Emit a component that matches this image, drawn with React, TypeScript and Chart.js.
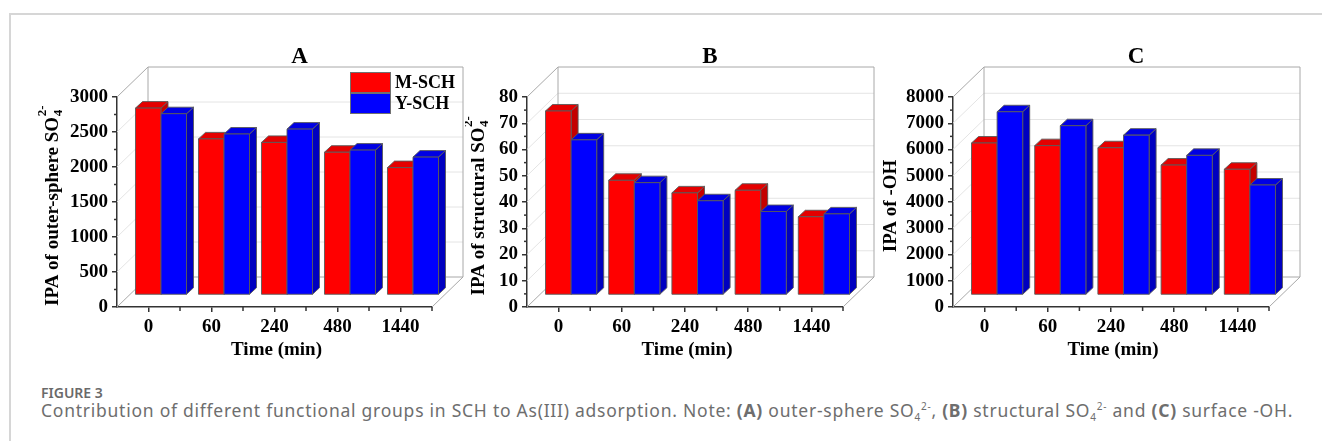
import { useEffect, useRef } from 'react';
import { Chart, registerables } from 'chart.js';

Chart.register(...registerables);

// Sampling times (min)
const TIME_LABELS = ['0', '60', '240', '480', '1440'];
const SERIES_NAMES = ['M-SCH', 'Y-SCH'];

// Integrated peak areas, outer-sphere SO4(2-)
const OUTER_M = [2670, 2230, 2180, 2040, 1820];
const OUTER_Y = [2590, 2300, 2370, 2070, 1970];
// Integrated peak areas, structural SO4(2-)
const STRUCT_M = [70.1, 43.7, 38.9, 39.9, 29.8];
const STRUCT_Y = [59.1, 42.8, 35.9, 31.8, 30.9];
// Integrated peak areas, surface -OH
const OH_M = [5790, 5690, 5610, 4950, 4790];
const OH_Y = [6980, 6450, 6090, 5320, 4190];

const RED = { front: '#ff0000', top: '#e40000', side: '#c40000' };
const BLUE = { front: '#0000ff', top: '#0000e4', side: '#0000c0' };
const SERIES_COLORS = [RED, BLUE];

const SERIF = 'Liberation Serif';
const TICK_FONT = { family: SERIF, size: 19, weight: 'bold' as const };

// oblique projection offsets
const WALL = { dx: 31, dy: -30 };
const BAR_SHIFT = { dx: 12.5, dy: -12 };
const BAR_DEPTH = { dx: 7, dy: -6.5 };

type YTitle = { main: string; sub: string; sup: string };

type PanelSpec = {
  letter: string;
  title: YTitle;
  m: number[];
  y: number[];
  max: number;
  step: number;
  canvasLeft: number;
  canvasWidth: number;
  plotLeft: number;
  plotRight: number;
  yTitleOffset: number;
  legend: boolean;
};

const CANVAS_H = 370;
const PLOT_TOP = 97;
const PLOT_BOTTOM = 307;
const Y_AXIS_W = 50;
const X_AXIS_H = 60;

const PANELS: PanelSpec[] = [
  {
    letter: 'A',
    title: { main: 'IPA of outer-sphere SO', sub: '4', sup: '2-' },
    m: OUTER_M,
    y: OUTER_Y,
    max: 3000,
    step: 500,
    canvasLeft: 0,
    canvasWidth: 470,
    plotLeft: 117,
    plotRight: 432,
    yTitleOffset: 65,
    legend: true,
  },
  {
    letter: 'B',
    title: { main: 'IPA of structural SO', sub: '4', sup: '2-' },
    m: STRUCT_M,
    y: STRUCT_Y,
    max: 80,
    step: 10,
    canvasLeft: 465,
    canvasWidth: 425,
    plotLeft: 527,
    plotRight: 843,
    yTitleOffset: 49,
    legend: false,
  },
  {
    letter: 'C',
    title: { main: 'IPA of -OH', sub: '', sup: '' },
    m: OH_M,
    y: OH_Y,
    max: 8000,
    step: 1000,
    canvasLeft: 880,
    canvasWidth: 442,
    plotLeft: 953,
    plotRight: 1269,
    yTitleOffset: 63,
    legend: false,
  },
];

function seg(ctx: CanvasRenderingContext2D, x1: number, y1: number, x2: number, y2: number) {
  ctx.beginPath();
  ctx.moveTo(x1, y1);
  ctx.lineTo(x2, y2);
  ctx.stroke();
}

function poly(ctx: CanvasRenderingContext2D, pts: number[][], fill: string) {
  ctx.beginPath();
  ctx.moveTo(pts[0][0], pts[0][1]);
  for (let i = 1; i < pts.length; i++) ctx.lineTo(pts[i][0], pts[i][1]);
  ctx.closePath();
  ctx.fillStyle = fill;
  ctx.fill();
  ctx.stroke();
}

function makeBoxPlugin(spec: PanelSpec) {
  return {
    id: 'box3d',
    beforeDatasetsDraw(chart: any) {
      const ctx: CanvasRenderingContext2D = chart.ctx;
      const { left, right, top, bottom } = chart.chartArea;
      const ys = chart.scales.y;
      ctx.save();

      // back wall grid and side-wall diagonals
      ctx.lineWidth = 1;
      ctx.strokeStyle = '#e4e4e4';
      ys.ticks.forEach((t: any) => {
        const py = ys.getPixelForValue(t.value);
        if (t.value === 0 || t.value === spec.max) return;
        seg(ctx, left, py, left + WALL.dx, py + WALL.dy);
        seg(ctx, left + WALL.dx, py + WALL.dy, right + WALL.dx, py + WALL.dy);
      });

      // box frame
      ctx.strokeStyle = '#a8a8a8';
      seg(ctx, left, top, left + WALL.dx, top + WALL.dy);
      seg(ctx, left + WALL.dx, top + WALL.dy, right + WALL.dx, top + WALL.dy);
      seg(ctx, left + WALL.dx, top + WALL.dy, left + WALL.dx, bottom + WALL.dy);
      seg(ctx, right + WALL.dx, top + WALL.dy, right + WALL.dx, bottom + WALL.dy);
      seg(ctx, left, bottom, left + WALL.dx, bottom + WALL.dy);
      seg(ctx, right, bottom, right + WALL.dx, bottom + WALL.dy);
      seg(ctx, left + WALL.dx, bottom + WALL.dy, right + WALL.dx, bottom + WALL.dy);

      // minor ticks
      ctx.strokeStyle = '#333';
      ctx.lineWidth = 1.5;
      for (let v = spec.step / 2; v < spec.max; v += spec.step) {
        const py = ys.getPixelForValue(v);
        seg(ctx, left, py, left - 3, py);
      }
      const cw = (right - left) / TIME_LABELS.length;
      for (let k = 1; k <= TIME_LABELS.length; k++) {
        const px = left + k * cw;
        seg(ctx, px, bottom, px, bottom + 4);
      }

      // 3D bars, left to right so that nearer faces cover the sides
      ctx.lineWidth = 0.9;
      ctx.strokeStyle = '#5a5a5a';
      ctx.lineJoin = 'round';
      const metas = [chart.getDatasetMeta(0), chart.getDatasetMeta(1)];
      for (let j = 0; j < TIME_LABELS.length; j++) {
        metas.forEach((meta: any, i: number) => {
          const el = meta.data[j];
          const p = el.getProps(['x', 'y', 'base', 'width'], true);
          const c = SERIES_COLORS[i];
          const l = p.x - p.width / 2 + BAR_SHIFT.dx;
          const r = p.x + p.width / 2 + BAR_SHIFT.dx;
          const t = p.y + BAR_SHIFT.dy;
          const b = p.base + BAR_SHIFT.dy;
          const { dx, dy } = BAR_DEPTH;
          poly(ctx, [[r, t], [r + dx, t + dy], [r + dx, b + dy], [r, b]], c.side);
          poly(ctx, [[l, t], [r, t], [r + dx, t + dy], [l + dx, t + dy]], c.top);
          poly(ctx, [[l, t], [r, t], [r, b], [l, b]], c.front);
        });
      }
      ctx.restore();
      return false;
    },
    afterDraw(chart: any) {
      const ctx: CanvasRenderingContext2D = chart.ctx;
      const { left, right, top, bottom } = chart.chartArea;
      ctx.save();
      ctx.fillStyle = '#000';

      // panel letter
      ctx.font = `bold 23px "${SERIF}"`;
      ctx.textAlign = 'center';
      ctx.textBaseline = 'middle';
      ctx.fillText(spec.letter, (left + right) / 2 + 25, top - 40);

      // x-axis title
      ctx.font = `bold 19px "${SERIF}"`;
      ctx.fillText('Time (min)', (left + right) / 2 + 2, bottom + 43);

      // y-axis title with sub/superscript
      const tt = spec.title;
      ctx.font = `bold 19px "${SERIF}"`;
      const wMain = ctx.measureText(tt.main).width;
      ctx.font = `bold 13px "${SERIF}"`;
      const wSub = tt.sub ? Math.max(ctx.measureText(tt.sub).width, ctx.measureText(tt.sup).width) : 0;
      const total = wMain + wSub;
      ctx.translate(left - spec.yTitleOffset, (top + bottom) / 2 + 4);
      ctx.rotate(-Math.PI / 2);
      ctx.textAlign = 'left';
      ctx.textBaseline = 'alphabetic';
      ctx.font = `bold 19px "${SERIF}"`;
      ctx.fillText(tt.main, -total / 2, 6);
      if (tt.sub) {
        ctx.font = `bold 13px "${SERIF}"`;
        ctx.fillText(tt.sub, -total / 2 + wMain + 0.5, 10);
        ctx.fillText(tt.sup, -total / 2 + wMain + 0.5, -6);
      }
      ctx.setTransform(1, 0, 0, 1, 0, 0);

      // legend
      if (spec.legend) {
        const lx = left + 233;
        const ly = top - 25;
        ctx.lineWidth = 1;
        ctx.strokeStyle = '#707070';
        ctx.font = `bold 18px "${SERIF}"`;
        ctx.textAlign = 'left';
        ctx.textBaseline = 'middle';
        SERIES_NAMES.forEach((name, i) => {
          const by = ly + i * 21;
          ctx.fillStyle = SERIES_COLORS[i].front;
          ctx.fillRect(lx, by, 40, 20);
          ctx.strokeRect(lx + 0.5, by + 0.5, 40, 20);
          ctx.fillStyle = '#000';
          ctx.fillText(name, lx + 45, by + 11);
        });
      }
      ctx.restore();
    },
  };
}

function Panel({ spec }: { spec: PanelSpec }) {
  const ref = useRef<HTMLCanvasElement | null>(null);

  useEffect(() => {
    const canvas = ref.current;
    if (!canvas) return;
    const localLeft = spec.plotLeft - spec.canvasLeft;
    const localRight = spec.plotRight - spec.canvasLeft;
    const chart = new Chart(canvas, {
      type: 'bar',
      data: {
        labels: TIME_LABELS,
        datasets: [
          { label: SERIES_NAMES[0], data: spec.m, backgroundColor: RED.front },
          { label: SERIES_NAMES[1], data: spec.y, backgroundColor: BLUE.front },
        ],
      },
      options: {
        animation: false,
        responsive: false,
        maintainAspectRatio: false,
        events: [],
        layout: {
          padding: {
            left: localLeft - Y_AXIS_W,
            right: spec.canvasWidth - localRight,
            top: PLOT_TOP,
            bottom: CANVAS_H - PLOT_BOTTOM - X_AXIS_H,
          },
        },
        datasets: { bar: { categoryPercentage: 0.81, barPercentage: 1 } },
        plugins: {
          legend: { display: false },
          tooltip: { enabled: false },
          title: { display: false },
        },
        scales: {
          x: {
            type: 'category',
            offset: true,
            grid: {
              offset: false,
              drawOnChartArea: false,
              drawTicks: true,
              tickLength: 5,
              color: '#333',
              lineWidth: 1.5,
            },
            border: { color: '#333', width: 1.5 },
            ticks: { font: TICK_FONT, color: '#000', padding: 4, maxRotation: 0, autoSkip: false },
            afterFit: (s: any) => {
              s.height = X_AXIS_H;
            },
          },
          y: {
            type: 'linear',
            min: 0,
            max: spec.max,
            ticks: {
              stepSize: spec.step,
              font: TICK_FONT,
              color: '#000',
              padding: 4,
              callback: (v: any) => String(v),
            },
            grid: {
              drawOnChartArea: false,
              drawTicks: true,
              tickLength: 5,
              color: '#333',
              lineWidth: 1.5,
            },
            border: { color: '#333', width: 1.5 },
            afterFit: (s: any) => {
              s.width = Y_AXIS_W;
            },
          },
        },
      } as any,
      plugins: [makeBoxPlugin(spec) as any],
    });
    return () => chart.destroy();
  }, [spec]);

  return (
    <canvas
      ref={ref}
      width={spec.canvasWidth}
      height={CANVAS_H}
      style={{
        position: 'absolute',
        left: spec.canvasLeft,
        top: 0,
        width: spec.canvasWidth,
        height: CANVAS_H,
      }}
    />
  );
}

const supStyle = { fontSize: 10 };

export default function App() {
  return (
    <div
      style={{
        position: 'fixed',
        left: 0,
        top: 0,
        width: 1322,
        height: 441,
        background: '#fff',
        overflow: 'hidden',
      }}
    >
      <div
        style={{
          position: 'absolute',
          left: 9,
          top: 13,
          width: 1330,
          height: 440,
          borderTop: '2px solid #d6d6d6',
          borderLeft: '2px solid #d6d6d6',
        }}
      />
      {PANELS.map((p) => (
        <Panel key={p.letter} spec={p} />
      ))}
      <div
        style={{
          position: 'absolute',
          left: 41,
          top: 383,
          font: '600 14px "Noto Sans"',
          lineHeight: '19px',
          color: '#6a6a6a',
          whiteSpace: 'nowrap',
        }}
      >
        FIGURE 3
      </div>
      <div
        style={{
          position: 'absolute',
          left: 41,
          top: 396,
          font: '17.5px "Noto Sans"',
          lineHeight: '20px',
          letterSpacing: '0.75px',
          color: '#6e6e6e',
          whiteSpace: 'nowrap',
        }}
      >
        Contribution of different functional groups in SCH to As(III) adsorption. Note: <b>(A)</b> outer-sphere SO
        <sub style={supStyle}>4</sub>
        <sup style={supStyle}>2-</sup>, <b>(B)</b> structural SO
        <sub style={supStyle}>4</sub>
        <sup style={supStyle}>2-</sup> and <b>(C)</b> surface -OH.
      </div>
    </div>
  );
}
